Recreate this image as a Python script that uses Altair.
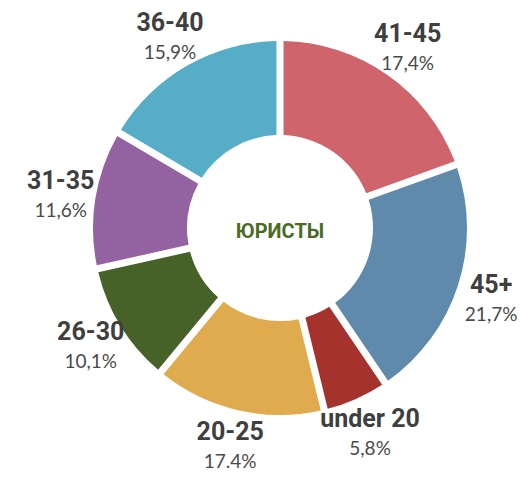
import altair as alt
import pandas as pd

# Data
categories = ["41-45", "45+", "under 20", "20-25", "26-30", "31-35", "36-40"]
arc_shares = [19.5, 21.0, 5.7, 14.8, 10.5, 12.0, 16.5]   # visual arc sizes
pct_labels = ["17,4%", "21,7%", "5,8%", "17.4%", "10,1%", "11,6%", "15,9%"]
colors = ["#d0646d", "#5f8aab", "#a6322e", "#dfab4e", "#476228", "#9462a0", "#56adc8"]
center_title = "ЮРИСТЫ"

df = pd.DataFrame({
    "idx": list(range(len(categories))),
    "category": categories,
    "share": arc_shares,
    "pct": pct_labels,
})

BOLD = "Roboto, Noto Sans, sans-serif"

base = alt.Chart(df).encode(
    theta=alt.Theta("share:Q", stack=True),
    order=alt.Order("idx:Q"),
)

arcs = base.mark_arc(outerRadius=187, innerRadius=93, padAngle=0.034).encode(
    color=alt.Color("category:N", scale=alt.Scale(domain=categories, range=colors), legend=None)
)

names = base.mark_text(radius=222, dy=-12, font=BOLD, fontWeight="bold",
                       fontSize=25, color="#3f3f3f", baseline="middle").encode(
    text="category:N"
)

pcts = base.mark_text(radius=222, dy=18, font="Lato, Open Sans, sans-serif",
                      fontSize=19, color="#4a4a4a", baseline="middle").encode(
    text="pct:N"
)

center = alt.Chart(pd.DataFrame({"t": [center_title]})).mark_text(
    font=BOLD, fontWeight="bold", fontSize=20, color="#4b6b24", baseline="middle", dy=4
).encode(text="t:N")

chart = alt.layer(arcs, names, pcts, center).properties(
    width=470, height=440,
    padding={"left": 37, "top": 0, "right": 4, "bottom": 25},
    autosize=alt.AutoSizeParams(type="none"),
).configure_view(stroke=None)

chart.save("out.html", embed_options={"renderer": "svg", "actions": False})
